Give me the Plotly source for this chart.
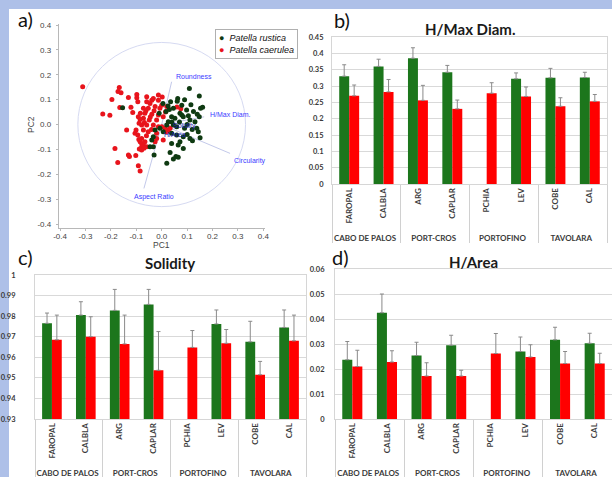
import plotly.graph_objects as go

W, H = 612, 477

# ---------------- data ----------------
# PCA scores (PC1, PC2)
rustica_pc1 = [0.109, 0.148, 0.063, 0.061, 0.035, 0.079, 0.161, 0.153, 0.046, 0.017, 0.098, 0.125,
               0.140, 0.148, 0.072, 0.079, 0.085, 0.039, 0.052, 0.111, 0.131, 0.026, 0.020, 0.046,
               0.059, 0.138, 0.144, -0.007, 0.006, -0.026, 0.039, 0.059, 0.085, 0.111, 0.151, -0.033,
               -0.039, 0.072, 0.065, 0.039, -0.046, -0.033, 0.085, 0.033, -0.030, 0.056, 0.046, 0.020,
               0.065, -0.154, 0.121, 0.100, 0.120, 0.100, 0.030, 0.005, 0.090, 0.115, 0.070, 0.090,
               0.040, 0.105, -0.010, 0.025]
rustica_pc2 = [0.145, 0.115, 0.105, 0.094, 0.092, 0.078, 0.069, 0.065, 0.065, 0.052, 0.058, 0.052,
               0.041, 0.031, 0.045, 0.038, 0.031, 0.031, 0.025, 0.018, 0.011, 0.011, -0.002, -0.002,
               -0.009, -0.015, -0.029, -0.015, -0.029, -0.022, -0.035, -0.042, -0.049, -0.056, -0.053, -0.049,
               -0.062, -0.069, -0.082, -0.076, -0.089, -0.089, -0.096, -0.112, -0.123, -0.129, -0.139, -0.156,
               -0.132, 0.067, -0.065, -0.040, -0.020, 0.000, 0.060, 0.085, 0.100, 0.080, 0.010, -0.015,
               0.010, 0.035, 0.045, 0.075]

caerulea_pc1 = [-0.311, -0.167, -0.172, -0.160, -0.196, -0.131, -0.098, -0.098, -0.094, -0.165, -0.121, -0.232,
                -0.204, -0.114, -0.084, -0.092, -0.089, -0.079, -0.138, -0.101, -0.105, -0.094, -0.085, -0.079,
                -0.072, -0.184, -0.131, -0.127, -0.102, -0.173, -0.092, -0.085,
                -0.013, 0.002, -0.059, -0.039, -0.059, -0.033, -0.013, -0.046, 0.000, -0.072, -0.053, -0.026,
                -0.007, 0.020, -0.066, -0.039, -0.013, 0.006, -0.072, -0.049, -0.020, -0.068, -0.059, -0.033,
                -0.013, 0.000, 0.026, -0.072, -0.053, -0.079, -0.066, -0.079, -0.059, -0.079, -0.020, -0.090,
                -0.070, -0.088, -0.026, 0.006, -0.020, 0.020, 0.060, 0.075, 0.013, 0.033, -0.062, -0.045,
                -0.030, -0.085, 0.015, -0.060, -0.040]
caerulea_pc2 = [0.152, 0.149, 0.133, 0.128, 0.101, 0.109, 0.121, 0.108, 0.092, 0.068, 0.069, 0.042,
                0.037, 0.048, 0.045, 0.031, 0.005, -0.002, -0.022, -0.022, -0.035, -0.042, -0.069, -0.076,
                -0.082, -0.096, -0.123, -0.129, -0.125, -0.153, -0.166, -0.187,
                0.119, 0.111, 0.092, 0.098, 0.112, 0.105, 0.098, 0.085, 0.078, 0.065, 0.065, 0.072,
                0.065, 0.072, 0.045, 0.041, 0.038, 0.031, 0.025, 0.018, 0.018, 0.008, -0.002, -0.002,
                -0.009, -0.009, -0.022, -0.022, -0.029, -0.056, -0.069, -0.090, -0.089, -0.102, -0.056, -0.060,
                -0.095, -0.098, -0.069, -0.062, -0.035, -0.029, 0.070, 0.063, -0.015, -0.015, 0.055, 0.030,
                0.055, 0.020, 0.050, -0.045, -0.020]

# PCA loadings
load_names = ["Roundness", "H/Max Diam.", "Circularity", "Aspect Ratio", "Solidity", "H/Area"]
load_pc1 = [0.039, 0.167, 0.269, -0.070, 0.070, 0.050]
load_pc2 = [0.172, 0.031, -0.116, -0.257, -0.010, -0.040]

# Bar charts: sites nested in areas
areas = ["CABO DE PALOS", "CABO DE PALOS", "PORT-CROS", "PORT-CROS",
         "PORTOFINO", "PORTOFINO", "TAVOLARA", "TAVOLARA"]
sites = ["FAROPAL", "CALBLA", "ARG", "CAPLAR", "PCHIA", "LEV", "COBE", "CAL"]

hmax_rustica = [0.330, 0.360, 0.385, 0.342, None, 0.322, 0.325, 0.326]
hmax_rustica_sd = [0.035, 0.022, 0.032, 0.021, None, 0.018, 0.029, 0.016]
hmax_caerulea = [0.270, 0.282, 0.256, 0.230, 0.278, 0.268, 0.238, 0.253]
hmax_caerulea_sd = [0.033, 0.038, 0.046, 0.027, 0.032, 0.029, 0.026, 0.021]

sol_rustica = [0.9765, 0.9805, 0.9828, 0.9857, None, 0.9762, 0.9675, 0.9745]
sol_rustica_sd = [0.0050, 0.0065, 0.0102, 0.0073, None, 0.0068, 0.0100, 0.0085]
sol_caerulea = [0.9685, 0.9700, 0.9665, 0.9537, 0.9648, 0.9668, 0.9515, 0.9680]
sol_caerulea_sd = [0.0120, 0.0097, 0.0140, 0.0188, 0.0082, 0.0067, 0.0065, 0.0125]

harea_rustica = [0.0237, 0.0425, 0.0254, 0.0295, None, 0.0270, 0.0317, 0.0303]
harea_rustica_sd = [0.0073, 0.0075, 0.0053, 0.0040, None, 0.0058, 0.0050, 0.0040]
harea_caerulea = [0.0210, 0.0228, 0.0172, 0.0172, 0.0262, 0.0248, 0.0222, 0.0222]
harea_caerulea_sd = [0.0065, 0.0045, 0.0053, 0.0023, 0.0080, 0.0049, 0.0048, 0.0041]

pc_ticks = [-0.4, -0.3, -0.2, -0.1, 0.0, 0.1, 0.2, 0.3, 0.4]
hmax_ticks = [0, 0.05, 0.1, 0.15, 0.2, 0.25, 0.3, 0.35, 0.4, 0.45]
sol_ticks = [0.93, 0.94, 0.95, 0.96, 0.97, 0.98, 0.99, 1.0]
harea_ticks = [0, 0.01, 0.02, 0.03, 0.04, 0.05, 0.06]

# ---------------- styling ----------------
GREEN = "#1c761c"
RED = "#ff0000"
DOT_GREEN = "#0f3a12"
DOT_RED = "#e8141c"
LOAD_LINE = "#c3c9ea"
LOAD_TEXT = "#3c3cff"
BAR_FONT = "Lato"
PCA_FONT = "Liberation Sans"


def fx(p):
    return p / W


def fy(p):
    return 1 - p / H


fig = go.Figure()

# loading vectors
for name, lx, ly in zip(load_names, load_pc1, load_pc2):
    fig.add_trace(go.Scatter(x=[0, lx], y=[0, ly], mode="lines",
                             line=dict(color=LOAD_LINE, width=1),
                             hoverinfo="skip", showlegend=False, xaxis="x", yaxis="y"))

fig.add_trace(go.Scatter(x=caerulea_pc1, y=caerulea_pc2, mode="markers",
                         marker=dict(color=DOT_RED, size=5), showlegend=False,
                         xaxis="x", yaxis="y"))
fig.add_trace(go.Scatter(x=rustica_pc1, y=rustica_pc2, mode="markers",
                         marker=dict(color=DOT_GREEN, size=5), showlegend=False,
                         xaxis="x", yaxis="y"))

xcat = [areas, sites]


def add_bars(mean_r, sd_r, mean_c, sd_c, xa, ya):
    for vals, sd, col in ((mean_r, sd_r, GREEN), (mean_c, sd_c, RED)):
        fig.add_trace(go.Bar(
            x=xcat, y=vals, marker=dict(color=col, line=dict(width=0)),
            error_y=dict(type="data", symmetric=False, array=sd,
                         arrayminus=[0] * len(sd), color="#8a8a8a",
                         thickness=1, width=2),
            showlegend=False, xaxis=xa, yaxis=ya))


add_bars(hmax_rustica, hmax_rustica_sd, hmax_caerulea, hmax_caerulea_sd, "x2", "y2")
add_bars(sol_rustica, sol_rustica_sd, sol_caerulea, sol_caerulea_sd, "x3", "y3")
add_bars(harea_rustica, harea_rustica_sd, harea_caerulea, harea_caerulea_sd, "x4", "y4")

# ---------------- axes ----------------
pca_tickfont = dict(family=PCA_FONT, size=8, color="#444444")
pca_axis = dict(showgrid=False, zeroline=False, showline=True, linecolor="#b8b8b8",
                ticks="outside", ticklen=2, tickcolor="#b8b8b8", automargin=False,
                tickfont=pca_tickfont, tickvals=pc_ticks,
                ticktext=[f"{v:.1f}" for v in pc_ticks])

bar_tickfont = dict(family=BAR_FONT, size=7.5, color="#3a3a3a", weight="bold")
cat_axis = dict(type="multicategory", tickangle=-90, showdividers=True,
                dividercolor="#d0d0d0", dividerwidth=1, showline=True, mirror=True,
                linecolor="#d6d6d6", ticks="", showgrid=False, automargin=False,
                tickfont=dict(family=BAR_FONT, size=8, color="#3a3a3a", weight="bold"))


def val_axis(ticks, rng, dom, standoff):
    return dict(range=rng, domain=dom, tickvals=ticks, ticktext=[f"{v:g}" for v in ticks],
                showgrid=True, gridcolor="#d9d9d9", gridwidth=1, zeroline=False,
                showline=True, mirror=True, linecolor="#d6d6d6", ticks="",
                automargin=False, tickfont=bar_tickfont, ticklabelstandoff=standoff)


fig.update_layout(
    width=W, height=H,
    margin=dict(l=0, r=0, t=0, b=0),
    paper_bgcolor="#aec0e8",
    plot_bgcolor="white",
    barmode="group", bargap=0.42, bargroupgap=0,
    xaxis=dict(domain=[fx(58.8), fx(264.6)], range=[-0.405, 0.405], anchor="y",
               ticklabelstandoff=-2, **pca_axis),
    yaxis=dict(domain=[fy(228), fy(23.8)], range=[-0.416, 0.405], anchor="x",
               ticklabelstandoff=3, **pca_axis),
    xaxis2=dict(domain=[fx(332), fx(607)], anchor="y2", **cat_axis),
    yaxis2=dict(anchor="x2", **val_axis(hmax_ticks, [0, 0.45], [fy(184), fy(37)], 6)),
    xaxis3=dict(domain=[fx(35), fx(306)], anchor="y3", **cat_axis),
    yaxis3=dict(anchor="x3", **val_axis(sol_ticks, [0.93, 1.0], [fy(419), fy(275)], 17)),
    xaxis4=dict(domain=[fx(335), fx(612)], anchor="y4", **cat_axis),
    yaxis4=dict(anchor="x4", **val_axis(harea_ticks, [0, 0.06], [fy(419), fy(269)], 8)),
    showlegend=False,
)

shapes = [
    # white sheet behind the panels
    dict(type="rect", xref="paper", yref="paper", x0=fx(9), x1=1, y0=0, y1=fy(9),
         fillcolor="white", line=dict(width=0), layer="below"),
    # correlation circle
    dict(type="circle", xref="x", yref="y", x0=-0.33, x1=0.33, y0=-0.33, y1=0.33,
         line=dict(color="#d6daf2", width=1), layer="below"),
]
fig.update_layout(shapes=shapes)

ann = []
# loading labels
label_cfg = {
    "Roundness": dict(xanchor="left", yanchor="bottom", xshift=2, yshift=0),
    "H/Max Diam.": dict(xanchor="left", yanchor="middle", xshift=4, yshift=2),
    "Circularity": dict(xanchor="left", yanchor="top", xshift=2, yshift=-2),
    "Aspect Ratio": dict(xanchor="center", yanchor="top", xshift=10, yshift=-3),
    "Solidity": dict(xanchor="left", yanchor="middle", xshift=-8, yshift=1),
    "H/Area": dict(xanchor="left", yanchor="middle", xshift=-12, yshift=0),
}
for name, lx, ly in zip(load_names, load_pc1, load_pc2):
    dark = name in ("Solidity", "H/Area")
    ann.append(dict(x=lx, y=ly, xref="x", yref="y", text=name, showarrow=False,
                    font=dict(family=PCA_FONT, size=7, color="#1c1ca8" if dark else LOAD_TEXT),
                    **label_cfg[name]))

# axis titles for the PCA panel
ann.append(dict(x=fx(161.7), y=fy(245), xref="paper", yref="paper", text="PC1", showarrow=False,
                font=dict(family=PCA_FONT, size=8.5, color="#444444"), xanchor="center", yanchor="middle"))
ann.append(dict(x=fx(31), y=fy(125), xref="paper", yref="paper", text="PC2", showarrow=False,
                textangle=-90, font=dict(family=PCA_FONT, size=8.5, color="#444444"),
                xanchor="center", yanchor="middle"))

# legend box
ann.append(dict(x=fx(215), y=fy(29), xref="paper", yref="paper", xanchor="left", yanchor="top",
                align="left", showarrow=False, bordercolor="#b0b0b0", borderwidth=1, borderpad=3,
                bgcolor="white",
                text=(f'<span style="color:{DOT_GREEN}">●</span>  <i>Patella rustica</i><br>'
                      f'<span style="color:{DOT_RED}">●</span>  <i>Patella caerulea</i>'),
                font=dict(family=PCA_FONT, size=9, color="#111111")))

# panel titles
for txt, cx, cy in (("H/Max Diam.", 469.5, 29), ("Solidity", 170, 263), ("H/Area", 473, 262)):
    ann.append(dict(x=fx(cx), y=fy(cy), xref="paper", yref="paper", text=f"<b>{txt}</b>",
                    showarrow=False, font=dict(family=BAR_FONT, size=15, color="#1a1a1a"),
                    xanchor="center", yanchor="middle"))

# panel letters
for txt, cx, cy in (("a)", 25, 19), ("b)", 342, 20), ("c)", 25, 257), ("d)", 340, 257)):
    ann.append(dict(x=fx(cx), y=fy(cy), xref="paper", yref="paper", text=txt, showarrow=False,
                    font=dict(family=BAR_FONT, size=20, color="#111111"),
                    xanchor="center", yanchor="middle"))

fig.update_layout(annotations=ann)

fig.write_html("out.html")
